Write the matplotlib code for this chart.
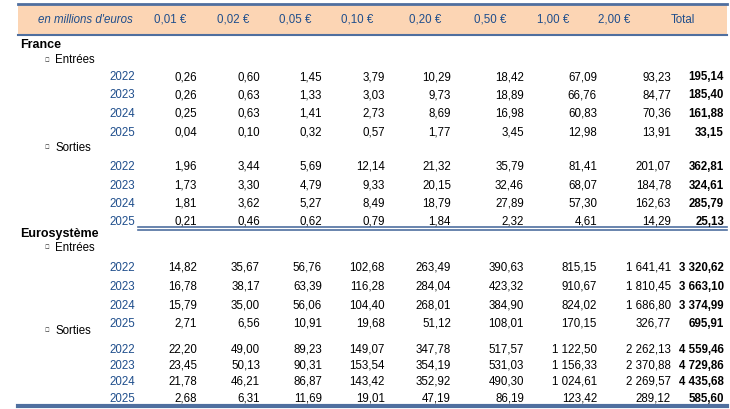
import matplotlib.pyplot as plt
from matplotlib.patches import Rectangle

plt.rcParams["font.family"] = "Liberation Sans"

headers = ["0,01 €", "0,02 €", "0,05 €", "0,10 €", "0,20 €", "0,50 €", "1,00 €", "2,00 €", "Total"]
years = ["2022", "2023", "2024", "2025"]

fr_entrees = [
    ["0,26", "0,60", "1,45", "3,79", "10,29", "18,42", "67,09", "93,23", "195,14"],
    ["0,26", "0,63", "1,33", "3,03", "9,73", "18,89", "66,76", "84,77", "185,40"],
    ["0,25", "0,63", "1,41", "2,73", "8,69", "16,98", "60,83", "70,36", "161,88"],
    ["0,04", "0,10", "0,32", "0,57", "1,77", "3,45", "12,98", "13,91", "33,15"],
]
fr_sorties = [
    ["1,96", "3,44", "5,69", "12,14", "21,32", "35,79", "81,41", "201,07", "362,81"],
    ["1,73", "3,30", "4,79", "9,33", "20,15", "32,46", "68,07", "184,78", "324,61"],
    ["1,81", "3,62", "5,27", "8,49", "18,79", "27,89", "57,30", "162,63", "285,79"],
    ["0,21", "0,46", "0,62", "0,79", "1,84", "2,32", "4,61", "14,29", "25,13"],
]
eu_entrees = [
    ["14,82", "35,67", "56,76", "102,68", "263,49", "390,63", "815,15", "1 641,41", "3 320,62"],
    ["16,78", "38,17", "63,39", "116,28", "284,04", "423,32", "910,67", "1 810,45", "3 663,10"],
    ["15,79", "35,00", "56,06", "104,40", "268,01", "384,90", "824,02", "1 686,80", "3 374,99"],
    ["2,71", "6,56", "10,91", "19,68", "51,12", "108,01", "170,15", "326,77", "695,91"],
]
eu_sorties = [
    ["22,20", "49,00", "89,23", "149,07", "347,78", "517,57", "1 122,50", "2 262,13", "4 559,46"],
    ["23,45", "50,13", "90,31", "153,54", "354,19", "531,03", "1 156,33", "2 370,88", "4 729,86"],
    ["21,78", "46,21", "86,87", "143,42", "352,92", "490,30", "1 024,61", "2 269,57", "4 435,68"],
    ["2,68", "6,31", "11,69", "19,01", "47,19", "86,19", "123,42", "289,12", "585,60"],
]

blue = "#1F4E8C"
line_blue = "#4F6F9F"
fig = plt.figure(figsize=(7.3, 4.1), dpi=100)
ax = fig.add_axes([0, 0, 1, 1])
ax.set_xlim(0, 730)
ax.set_ylim(410, 0)
ax.axis("off")

# header band
ax.add_patch(Rectangle((18, 5), 709, 30, facecolor="#FCD5B4", edgecolor="none"))
ax.plot([18, 727], [5, 5], color=line_blue, lw=2)
ax.plot([18, 727], [35.5, 35.5], color=line_blue, lw=1.5)
fs = 8.3
ax.text(85, 20, "en millions d'euros", ha="center", va="center", fontsize=fs, style="italic", color=blue)
head_x = [170, 233, 295, 357, 425, 490, 553, 614, 683]
for x, h in zip(head_x, headers):
    ax.text(x, 20, h, ha="center", va="center", fontsize=fs, color=blue)

col_x = [197, 260, 322, 385, 451, 524, 597, 671, 724]


def block(rows, ys):
    for y, yr, row in zip(ys, years, rows):
        ax.text(135, y, yr, ha="right", va="center", fontsize=fs, color=blue)
        for i, (x, v) in enumerate(zip(col_x, row)):
            ax.text(x, y, v, ha="right", va="center", fontsize=fs,
                    fontweight="bold" if i == 8 else "normal")


def sub(y, label):
    ax.text(47, y, "\u25c6", ha="center", va="center", fontsize=4.5)
    ax.text(55, y, label, ha="left", va="center", fontsize=fs)


ax.text(20, 45, "France", ha="left", va="center", fontsize=9, fontweight="bold")
sub(60, "Entrées")
block(fr_entrees, [77, 95, 114, 133])
sub(148, "Sorties")
block(fr_sorties, [167, 186, 204, 222])
ax.plot([138, 727], [227.5, 227.5], color=line_blue, lw=1.2)
ax.plot([138, 727], [230.5, 230.5], color=line_blue, lw=1.2)

ax.text(20, 234, "Eurosystème", ha="left", va="center", fontsize=9, fontweight="bold")
sub(248, "Entrées")
block(eu_entrees, [268, 287, 306, 324])
sub(331, "Sorties")
block(eu_sorties, [350, 366, 382, 399])
ax.plot([18, 727], [407, 407], color=line_blue, lw=3)

fig.savefig("out.png", dpi=100)
